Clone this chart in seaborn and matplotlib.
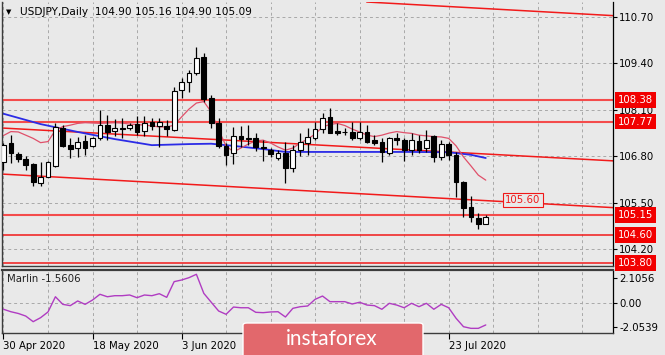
import numpy as np
import pandas as pd
import matplotlib
matplotlib.use("Agg")
import matplotlib.pyplot as plt
import seaborn as sns
from matplotlib.patches import FancyBboxPatch

# ---------------- data ----------------
opens = [106.65, 107.16, 106.85, 106.72, 106.57, 106.06, 106.23, 106.53, 107.60, 107.11,
         107.02, 107.23, 107.09, 107.32, 107.67, 107.51, 107.60, 107.58, 107.70, 107.52,
         107.75, 107.65, 107.66, 107.53, 108.66, 108.87, 109.12, 109.59, 108.42, 107.74,
         107.09, 106.89, 107.38, 107.32, 107.30, 107.07, 106.97, 106.76, 106.88, 106.48,
         106.97, 107.16, 107.32, 107.55, 107.91, 107.50, 107.48, 107.47, 107.32, 107.49,
         107.25, 107.21, 106.88, 107.30, 107.25, 106.97, 107.23, 107.03, 107.37, 106.79,
         107.14, 106.83, 106.07, 105.37, 105.06, 104.90]
highs = [107.17, 107.39, 106.93, 106.81, 106.60, 106.65, 106.67, 107.74, 107.67, 107.30,
         107.35, 107.39, 107.35, 108.10, 107.95, 107.83, 107.88, 107.72, 107.93, 107.93,
         107.88, 107.88, 107.81, 108.75, 108.98, 109.22, 109.87, 109.68, 108.52, 107.86,
         107.16, 107.62, 107.65, 107.67, 107.44, 107.25, 107.04, 106.97, 107.21, 107.11,
         107.46, 107.60, 107.77, 108.00, 108.14, 107.72, 107.58, 107.75, 107.77, 107.67,
         107.39, 107.32, 107.35, 107.44, 107.30, 107.44, 107.39, 107.53, 107.39, 107.25,
         107.21, 106.93, 106.11, 105.69, 105.22, 105.16]
lows = [106.41, 106.62, 106.65, 106.41, 105.97, 105.97, 106.22, 106.51, 107.07, 106.74,
        106.79, 106.83, 107.07, 107.25, 107.25, 107.37, 107.30, 107.53, 107.39, 107.37,
        107.53, 107.07, 107.37, 107.51, 108.42, 108.61, 109.08, 108.33, 107.59, 107.02,
        106.55, 106.58, 107.07, 107.11, 106.95, 106.67, 106.79, 106.69, 106.06, 106.37,
        106.81, 106.83, 107.25, 107.44, 107.44, 107.39, 107.39, 107.25, 107.25, 107.16,
        107.11, 106.65, 106.83, 107.11, 106.67, 106.83, 106.88, 106.93, 106.65, 106.69,
        106.69, 105.67, 105.11, 104.97, 104.75, 104.90]
closes = [107.11, 106.90, 106.71, 106.55, 106.09, 106.23, 106.63, 107.63, 107.09, 106.99,
          107.21, 107.02, 107.30, 107.67, 107.49, 107.58, 107.57, 107.67, 107.49, 107.72,
          107.66, 107.77, 107.56, 108.63, 108.87, 109.12, 109.56, 108.40, 107.72, 107.09,
          106.83, 107.37, 107.28, 107.28, 107.07, 107.02, 106.85, 106.88, 106.46, 106.97,
          107.21, 107.35, 107.55, 107.86, 107.46, 107.46, 107.47, 107.30, 107.49, 107.21,
          107.16, 106.93, 107.30, 107.25, 106.97, 107.25, 106.97, 107.25, 106.79, 107.14,
          106.83, 106.09, 105.34, 105.11, 104.90, 105.09]

ma_fast = [107.38, 107.49, 107.48, 107.39, 107.30, 107.18, 107.21, 107.53, 107.63, 107.67,
           107.72, 107.74, 107.73, 107.72, 107.73, 107.74, 107.73, 107.70, 107.69, 107.67,
           107.65, 107.62, 107.62, 107.67, 107.90, 108.12, 108.29, 108.33, 108.04, 107.53,
           107.09, 106.92, 107.03, 107.14, 107.23, 107.25, 107.17, 107.06, 106.97, 107.03,
           107.17, 107.28, 107.42, 107.62, 107.69, 107.72, 107.66, 107.56, 107.48, 107.39,
           107.35, 107.39, 107.45, 107.49, 107.46, 107.44, 107.39, 107.37, 107.35, 107.34,
           107.30, 107.09, 106.78, 106.53, 106.27, 106.13]
ma_slow_idx = [0, 5, 10, 15, 20, 25, 28, 31, 35, 38, 45, 55, 60, 63, 65]
ma_slow = [107.99, 107.70, 107.48, 107.28, 107.11, 107.14, 107.15, 107.09, 107.00, 106.92,
           106.92, 106.92, 106.91, 106.84, 106.75]

marlin = [-0.57, -0.78, -0.93, -1.15, -1.63, -1.29, -0.80, 0.50, -0.15, -0.26,
          0.14, -0.15, 0.22, 0.71, 0.50, 0.59, 0.59, 0.65, 0.42, 0.65,
          0.59, 0.76, 0.45, 1.79, 1.93, 2.13, 2.42, 0.79, 0.03, -0.72,
          -1.00, -0.38, -0.44, -0.44, -0.83, -0.86, -0.80, -0.78, -1.23, -0.49,
          -0.35, -0.29, 0.28, 0.56, 0.08, 0.08, 0.08, -0.12, 0.03, -0.21,
          -0.26, -0.57, -0.06, -0.21, -0.44, -0.06, -0.35, -0.06, -0.57, -0.15,
          -0.44, -1.34, -2.06, -2.20, -2.20, -1.91]

levels_main = [108.38, 107.77, 105.15]
levels_minor = [104.60, 103.80]
level_labels = [108.38, 107.77, 105.15, 104.60, 103.80]

trend_upper = [(50.7, 111.10), (82.0, 110.74)]
trend_mid = [(-0.2, 107.59), (82.2, 106.67)]
trend_low = [(-0.2, 106.30), (82.2, 105.36)]
trend_label = (70.0, 105.58, "105.60")

price_ticks = [110.70, 109.40, 108.10, 106.80, 105.50, 104.20]
marlin_ticks = [2.1056, 0.00, -2.0539]
marlin_tick_labels = ["2.1056", "0.00", "-2.0539"]
date_tick_idx = [0, 12, 24, 60]
date_tick_labels = ["30 Apr 2020", "18 May 2020", "3 Jun 2020", "23 Jul 2020"]
title_text = "USDJPY,Daily  104.90 105.16 104.90 105.09"
marlin_title = "Marlin -1.5606"

# ---------------- style ----------------
sns.set_theme(style="white")
plt.rcParams["font.family"] = ["DejaVu Sans"]
BG = "#E9E9E9"
FS = 7.3

W, H = 665, 355
fig = plt.figure(figsize=(W / 100, H / 100), dpi=100, facecolor=BG)

def fbox(x0, y0, x1, y1):
    return [x0 / W, 1 - y1 / H, (x1 - x0) / W, (y1 - y0) / H]

ax = fig.add_axes(fbox(2, 2, 613, 266), facecolor=BG)
axm = fig.add_axes(fbox(2, 270, 613, 333), facecolor=BG)

df = pd.DataFrame({"open": opens, "high": highs, "low": lows, "close": closes})
df["idx"] = np.arange(len(df))
df["ma_fast"] = ma_fast

grid_idx = np.arange(0, 84, 6)
for a in (ax, axm):
    for g in grid_idx:
        a.axvline(g, color="#A8A8A8", lw=0.7, ls=(0, (3, 3)), zorder=0)
for p in price_ticks:
    ax.axhline(p, color="#A8A8A8", lw=0.7, ls=(0, (3, 3)), zorder=0)
axm.axhline(0, color="#A8A8A8", lw=0.7, ls=(0, (3, 3)), zorder=0)

# levels and trend lines
for lv in levels_main:
    ax.axhline(lv, color="#F44C4C", lw=1.5, zorder=1)
for lv in levels_minor:
    ax.axhline(lv, color="#F21A1A", lw=1.1, zorder=1)
for tl in (trend_upper, trend_mid, trend_low):
    ax.axline(tl[0], tl[1], color="#F21A1A", lw=1.1, zorder=1)

# moving averages
sns.lineplot(x=ma_slow_idx, y=ma_slow, ax=ax, color="#2B2BE6", lw=1.3, zorder=2)
sns.lineplot(data=df, x="idx", y="ma_fast", ax=ax, color="#E0506A", lw=0.9, zorder=2)

# candles
bw = 0.64
ax.vlines(df["idx"], df["low"], df["high"], color="black", lw=0.9, zorder=3)
body_lo = np.minimum(df["open"], df["close"])
body_h = np.maximum(np.abs(df["close"] - df["open"]), 0.012)
fc = np.where(df["close"] >= df["open"], "white", "black")
ax.bar(df["idx"], body_h, bottom=body_lo, width=bw, color=fc, edgecolor="black", lw=0.8, zorder=4)

# 105.60 label on the trend line
ax.text(trend_label[0], trend_label[1], trend_label[2], color="#F01818", fontsize=FS,
        ha="center", va="center", zorder=6,
        bbox=dict(boxstyle="square,pad=0.2", fc=BG, ec="#F01818", lw=0.8))

ax.set_xlim(-0.2, 82.15)
ax.set_ylim(103.725, 111.12)
ax.set_xlabel("")
ax.set_ylabel("")
ax.set_xticks([])
ax.yaxis.tick_right()
ax.set_yticks(price_ticks)
ax.set_yticklabels([f"{p:.2f}" for p in price_ticks])
ax.tick_params(axis="y", right=True, length=3, width=0.8, color="black", pad=1.5,
               labelsize=FS, labelcolor="black")

# red price boxes on the scale
for lv in level_labels:
    ax.text(1.0075, lv, f"{lv:.2f}", transform=ax.get_yaxis_transform(), color="white",
            fontsize=FS, ha="left", va="center", zorder=10, clip_on=False,
            bbox=dict(boxstyle="square,pad=0.28", fc="#F20000", ec="none"))

for s in ("left", "bottom", "top"):
    ax.spines[s].set_color("#3C3C3C")
    ax.spines[s].set_linewidth(1.0)
ax.spines["top"].set_visible(False)
ax.spines["right"].set_color("black")
ax.spines["right"].set_linewidth(0.9)

# Marlin subwindow
sns.lineplot(x=np.arange(len(marlin)), y=marlin, ax=axm, color="#B03CC2", lw=1.0, zorder=3)
axm.set_xlim(-0.2, 82.15)
axm.set_ylim(-2.598, 2.786)
axm.set_xlabel("")
axm.set_ylabel("")
axm.yaxis.tick_right()
axm.set_yticks(marlin_ticks)
axm.set_yticklabels(marlin_tick_labels)
axm.tick_params(axis="y", right=True, length=3, width=0.8, color="black", pad=1.5,
                labelsize=FS, labelcolor="black")
axm.set_xticks(date_tick_idx)
axm.set_xticklabels(date_tick_labels)
axm.tick_params(axis="x", bottom=True, length=4, width=0.8, color="black", pad=1.5,
                labelsize=FS, labelcolor="black")
for lbl in axm.get_xticklabels():
    lbl.set_ha("left")
for s in ("left", "bottom", "top"):
    axm.spines[s].set_color("#3C3C3C")
    axm.spines[s].set_linewidth(1.0)
axm.spines["top"].set_linewidth(1.6)
axm.spines["right"].set_color("black")
axm.spines["right"].set_linewidth(0.9)
axm.text(0.008, 0.86, marlin_title, transform=axm.transAxes, fontsize=FS,
         color="#202020", ha="left", va="center")

# header
fig.text(9 / W, 1 - 12 / H, "\u25BC", fontsize=5, ha="center", va="center", color="black")
fig.text(20 / W, 1 - 12 / H, title_text, fontsize=7.6, ha="left", va="center", color="black")

# watermark logo
logo = FancyBboxPatch((243 / W, 1 - 360 / H), 180 / W, 37 / H,
                      boxstyle="round,pad=0,rounding_size=0.006", transform=fig.transFigure,
                      fc="#E2686C", ec="white", lw=1.0, zorder=20)
fig.add_artist(logo)
fig.text(332 / W, 1 - 339 / H, "instaforex", fontsize=15, color="white", ha="center",
         va="center", family=["Lato", "DejaVu Sans"], zorder=21)

fig.savefig("out.png", dpi=100, facecolor=BG)
